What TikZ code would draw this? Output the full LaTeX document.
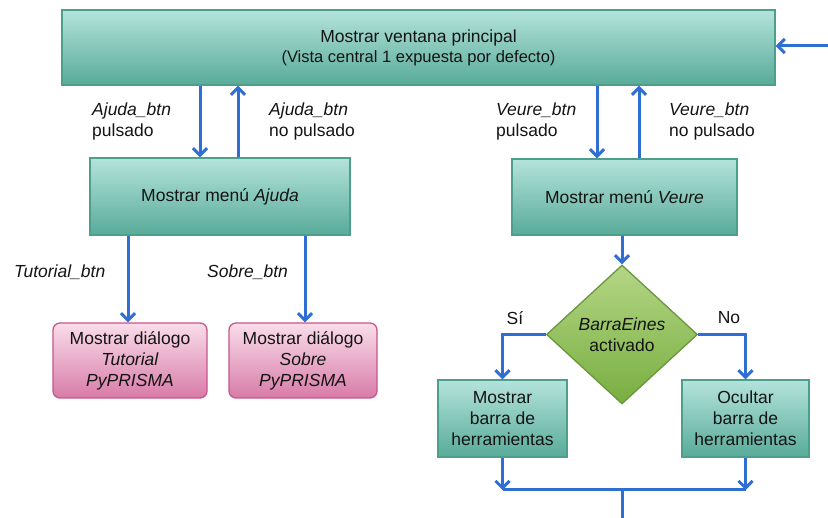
\documentclass[tikz,border=0pt]{standalone}
\usepackage{fontspec}
\setmainfont{Liberation Sans}
\usetikzlibrary{shapes.geometric,arrows.meta}

\definecolor{tealtop}{HTML}{B4E3DB}
\definecolor{tealbot}{HTML}{58AB99}
\definecolor{tealdraw}{HTML}{4E9E8C}
\definecolor{pinktop}{HTML}{F9DDEA}
\definecolor{pinkbot}{HTML}{D87BA7}
\definecolor{pinkdraw}{HTML}{C8558E}
\definecolor{greentop}{HTML}{B4D685}
\definecolor{greenbot}{HTML}{78AE40}
\definecolor{greendraw}{HTML}{6A963C}
\definecolor{flowblue}{HTML}{2F6ED2}
\definecolor{ink}{HTML}{141414}

\tikzset{
  base/.style={inner sep=0pt, align=center, text=ink,
    font=\fontsize{17.5}{21}\selectfont},
  procbox/.style={base, rectangle, draw=tealdraw, line width=1.3pt,
    top color=tealtop, bottom color=tealbot},
  dialogbox/.style={base, rectangle, rounded corners=7pt, draw=pinkdraw,
    line width=1.3pt, top color=pinktop, bottom color=pinkbot},
  decision/.style={base, diamond, draw=greendraw, line width=1.3pt,
    top color=greentop, bottom color=greenbot},
  lbl/.style={base, align=left, anchor=west},
  flow/.style={draw=flowblue, line width=3pt,
    -{Straight Barb[length=7pt,width=14pt]}},
  plain/.style={draw=flowblue, line width=3pt},
}

\begin{document}
\begin{tikzpicture}[x=1pt,y=-1pt]
\useasboundingbox (0,0) rectangle (828,518);

% main window
\node[procbox, minimum width=713pt, minimum height=75pt] (main) at (418.5,47.5)
  {Mostrar ventana principal\\[-1pt]
   {\fontsize{16.5}{20}\selectfont (Vista central 1 expuesta por defecto)}};

% menus
\node[procbox, minimum width=260pt, minimum height=77pt] (ajuda) at (220,196.5)
  {Mostrar menú \textit{Ajuda}};
\node[procbox, minimum width=225pt, minimum height=76pt] (veure) at (624.5,197)
  {Mostrar menú \textit{Veure}};

% dialogs
\node[dialogbox, minimum width=154pt, minimum height=75pt] (tutorial) at (130,360.5)
  {Mostrar diálogo\\\textit{Tutorial}\\\textit{PyPRISMA}};
\node[dialogbox, minimum width=148pt, minimum height=75pt] (sobre) at (303,360.5)
  {Mostrar diálogo\\\textit{Sobre}\\\textit{PyPRISMA}};

% toolbar decision
\node[decision, minimum width=151pt, minimum height=139pt] (dec) at (622,334.5)
  {\textit{BarraEines}\\activado};
\node[procbox, minimum width=129pt, minimum height=77pt] (show) at (502.5,418.5)
  {Mostrar\\barra de\\herramientas};
\node[procbox, minimum width=127pt, minimum height=77pt] (hide) at (745.5,418.5)
  {Ocultar\\barra de\\herramientas};

% free ends
\coordinate (entry) at (828,46);
\coordinate (join) at (622,490);
\coordinate (exit) at (622,518);

% connectors
\draw[flow] (entry) -- (main.east |- entry);

\draw[flow] ([xshift=-20pt]ajuda.north |- main.south) -- ([xshift=-20pt]ajuda.north);
\draw[flow] ([xshift=18pt]ajuda.north) -- ([xshift=18pt]ajuda.north |- main.south);
\draw[flow] ([xshift=-27.5pt]veure.north |- main.south) -- ([xshift=-27.5pt]veure.north);
\draw[flow] ([xshift=14.5pt]veure.north) -- ([xshift=14.5pt]veure.north |- main.south);

\draw[flow] ([xshift=-2pt]tutorial.north |- ajuda.south) -- ([xshift=-2pt]tutorial.north);
\draw[flow] ([xshift=2pt]sobre.north |- ajuda.south) -- ([xshift=2pt]sobre.north);

\draw[flow] (dec.north |- veure.south) -- (dec.north);
\draw[flow] (dec.west) -| (show.north);
\draw[flow] (dec.east) -| (hide.north);

\draw[flow] (show.south) -- (show.south |- join);
\draw[flow] (hide.south) -- (hide.south |- join);
\draw[plain] (show.south |- join) -- (hide.south |- join);
\draw[plain] (join) -- (exit);

% connector labels
\node[lbl] (l1) at (92,121.5) {\textit{Ajuda\_btn}\\pulsado};
\node[lbl] (l2) at (269,121.5) {\textit{Ajuda\_btn}\\no pulsado};
\node[lbl] (l3) at (496,121.5) {\textit{Veure\_btn}\\pulsado};
\node[lbl] (l4) at (669,121.5) {\textit{Veure\_btn}\\no pulsado};
\node[lbl] (l5) at (14,272) {\textit{Tutorial\_btn}};
\node[lbl] (l6) at (207,272) {\textit{Sobre\_btn}};
\node[base] (yes) at (515,318) {Sí};
\node[base] (no) at (729,318) {No};
\end{tikzpicture}
\end{document}
